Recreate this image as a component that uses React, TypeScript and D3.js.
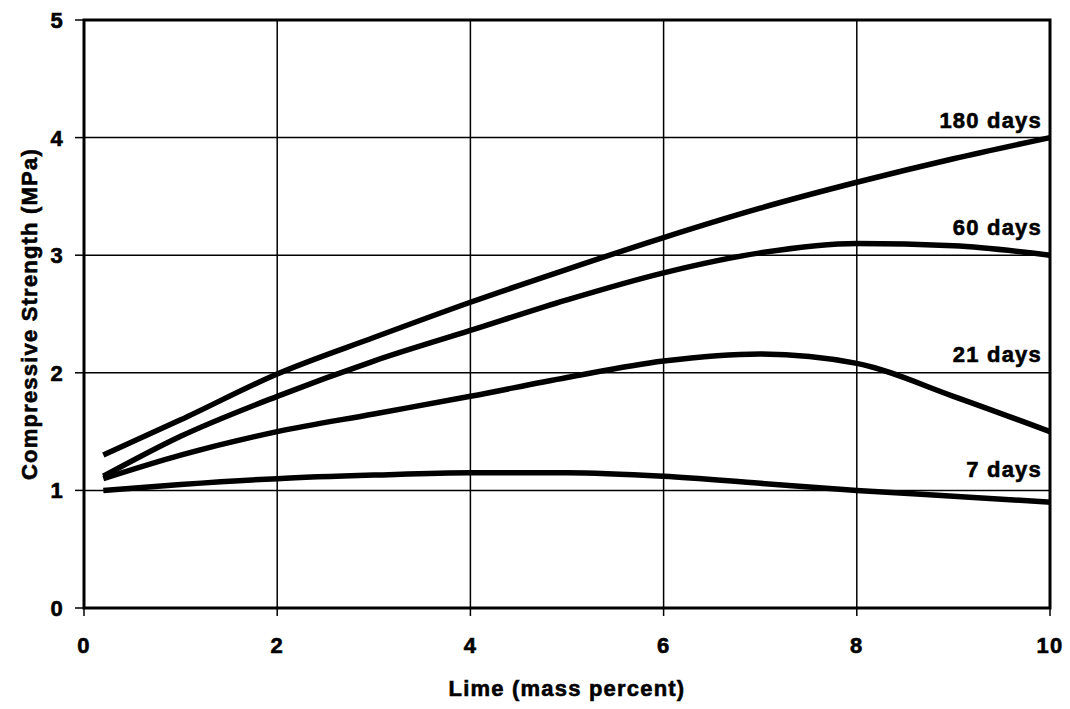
import React from "react";
import * as d3 from "d3";

const xValues = [0.2, 1, 2, 3, 4, 5, 6, 7, 8, 9, 10];
const days180 = [1.3, 1.6, 1.99, 2.3, 2.6, 2.88, 3.15, 3.4, 3.62, 3.82, 4.0];
const days60 = [1.12, 1.46, 1.8, 2.1, 2.36, 2.62, 2.85, 3.02, 3.1, 3.08, 3.0];
const days21 = [1.1, 1.3, 1.5, 1.65, 1.8, 1.96, 2.1, 2.16, 2.08, 1.8, 1.5];
const days7 = [1.0, 1.05, 1.1, 1.13, 1.15, 1.15, 1.12, 1.06, 1.0, 0.95, 0.9];
const seriesNames = ["180 days", "60 days", "21 days", "7 days"];
const seriesValues = [days180, days60, days21, days7];
const labelValues = [4.08, 3.17, 2.09, 1.11];
const xTicks = [0, 2, 4, 6, 8, 10];
const yTicks = [0, 1, 2, 3, 4, 5];

export default function App() {
  const W = 1070, H = 709;
  const left = 84, right = 1050, top = 20, bottom = 608;
  const x = d3.scaleLinear().domain([0, 10]).range([left, right]);
  const y = d3.scaleLinear().domain([0, 5]).range([bottom, top]);
  const line = d3
    .line<number>()
    .x((_, i) => x(xValues[i]))
    .y((d) => y(d))
    .curve(d3.curveMonotoneX);
  const font = "'Liberation Sans', Arial, sans-serif";
  const textProps = {
    fontSize: 22,
    fontWeight: "bold" as const,
    stroke: "#000",
    strokeWidth: 0.6,
    letterSpacing: 1.2,
  };
  return (
    <svg width={W} height={H} style={{ position: "absolute", left: 0, top: 0, background: "#fff" }} fontFamily={font}>
      {yTicks.slice(1, -1).map((t) => (
        <line key={"gy" + t} x1={left} x2={right} y1={y(t)} y2={y(t)} stroke="#000" strokeWidth={1.5} />
      ))}
      {xTicks.slice(1, -1).map((t) => (
        <line key={"gx" + t} x1={x(t)} x2={x(t)} y1={top} y2={bottom} stroke="#000" strokeWidth={1.5} />
      ))}
      {yTicks.map((t) => (
        <line key={"ty" + t} x1={left - 9} x2={left} y1={y(t)} y2={y(t)} stroke="#000" strokeWidth={1.5} />
      ))}
      {xTicks.map((t) => (
        <line key={"tx" + t} x1={x(t)} x2={x(t)} y1={bottom} y2={bottom + 8} stroke="#000" strokeWidth={1.5} />
      ))}
      <rect x={left} y={top} width={right - left} height={bottom - top} fill="none" stroke="#000" strokeWidth={3} />
      {seriesValues.map((vals, i) => (
        <path key={seriesNames[i]} d={line(vals) || ""} fill="none" stroke="#000" strokeWidth={5.5} strokeLinejoin="round" />
      ))}
      {seriesNames.map((name, i) => (
        <text key={"l" + i} x={right - 8} y={y(labelValues[i])} textAnchor="end" {...textProps}>
          {name}
        </text>
      ))}
      {yTicks.map((t) => (
        <text key={"yl" + t} x={left - 20} y={y(t) + 8} textAnchor="end" {...textProps}>
          {t}
        </text>
      ))}
      {xTicks.map((t) => (
        <text key={"xl" + t} x={x(t)} y={bottom + 45} textAnchor="middle" {...textProps}>
          {t}
        </text>
      ))}
      <text x={(left + right) / 2} y={696} textAnchor="middle" {...textProps}>
        Lime (mass percent)
      </text>
      <text transform={`translate(37, ${(top + bottom) / 2}) rotate(-90)`} textAnchor="middle" {...textProps}>
        Compressive Strength (MPa)
      </text>
    </svg>
  );
}
